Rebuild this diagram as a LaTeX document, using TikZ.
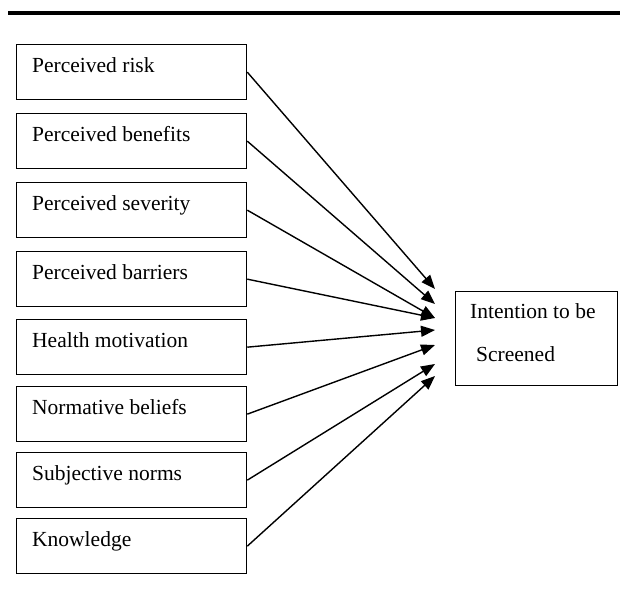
\documentclass[tikz,border=0pt]{standalone}
\usepackage{fontspec}
\setmainfont{Liberation Serif}
\usetikzlibrary{arrows.meta,calc}
\begin{document}
\begin{tikzpicture}[x=1pt,y=-1pt,
 box/.style={draw, line width=1.3pt, minimum width=230pt, minimum height=55pt, inner sep=0pt, anchor=north west},
 lbl/.style={anchor=base west, inner sep=0pt, font=\fontsize{21.5}{25}\selectfont},
 arr/.style={line width=1.4pt, -{Triangle[length=14pt,width=11pt]}}]
\useasboundingbox (0,0) rectangle (620,592);
\draw[line width=4pt] (8,13) -- (620,13);
% left boxes
\node[box] (b1) at (16,44) {};
\node[box] (b2) at (16,113) {};
\node[box] (b3) at (16,182) {};
\node[box] (b4) at (16,251) {};
\node[box] (b5) at (16,319) {};
\node[box] (b6) at (16,386) {};
\node[box] (b7) at (16,452) {};
\node[box] (b8) at (16,518) {};
\node[lbl] (t1) at ($(b1.north west)+(16,28)$) {Perceived risk};
\node[lbl] (t2) at ($(b2.north west)+(16,28)$) {Perceived benefits};
\node[lbl] (t3) at ($(b3.north west)+(16,28)$) {Perceived severity};
\node[lbl] (t4) at ($(b4.north west)+(16,28)$) {Perceived barriers};
\node[lbl] (t5) at ($(b5.north west)+(16,28)$) {Health motivation};
\node[lbl] (t6) at ($(b6.north west)+(16,28)$) {Normative beliefs};
\node[lbl] (t7) at ($(b7.north west)+(16,28)$) {Subjective norms};
\node[lbl] (t8) at ($(b8.north west)+(16,28)$) {Knowledge};
% right box
\node[draw, line width=1.3pt, minimum width=162pt, minimum height=94pt, inner sep=0pt, anchor=north west] (rb) at (455,291) {};
\node[lbl] (r1) at (470,318) {Intention to be};
\node[lbl] (r2) at (476,361) {Screened};
% arrow ends
\coordinate (e1) at (435,289);
\coordinate (e2) at (435,304);
\coordinate (e3) at (435,318);
\coordinate (e4) at (435,318);
\coordinate (e5) at (435,330);
\coordinate (e6) at (435,345);
\coordinate (e7) at (435,364);
\coordinate (e8) at (435,376);
\draw[arr] (b1.east) -- (e1);
\draw[arr] (b2.east) -- (e2);
\draw[arr] (b3.east) -- (e3);
\draw[arr] (b4.east) -- (e4);
\draw[arr] (b5.east) -- (e5);
\draw[arr] (b6.east) -- (e6);
\draw[arr] (b7.east) -- (e7);
\draw[arr] (b8.east) -- (e8);
\end{tikzpicture}
\end{document}
